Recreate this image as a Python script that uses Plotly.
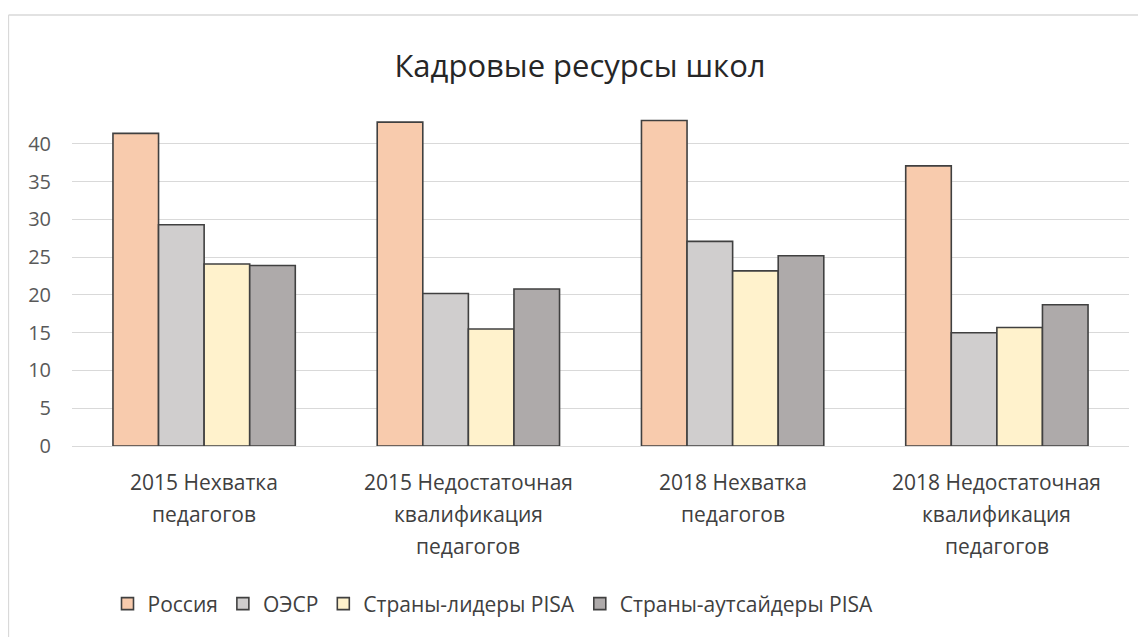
import plotly.graph_objects as go

categories = [
    "2015 Нехватка\nпедагогов",
    "2015 Недостаточная\nквалификация\nпедагогов",
    "2018 Нехватка\nпедагогов",
    "2018 Недостаточная\nквалификация\nпедагогов",
]
series_names = ["Россия", "ОЭСР", "Страны-лидеры PISA", "Страны-аутсайдеры PISA"]
russia = [41.4, 42.9, 43.1, 37.1]
oecd = [29.3, 20.2, 27.1, 15.0]
leaders = [24.1, 15.5, 23.2, 15.7]
outsiders = [23.9, 20.8, 25.2, 18.7]
colors = ["#F8CBAD", "#D0CECE", "#FFF2CC", "#AEAAAA"]
title_text = "Кадровые ресурсы школ"
y_ticks = [0, 5, 10, 15, 20, 25, 30, 35, 40]

FONT = "Open Sans, Noto Sans, sans-serif"
# page has an 8px body margin; figure coordinates = page coordinates - 8
W, H = 1138, 629
L, R, T, B = 64, 17, 102, 191
PH = H - T - B
PW = W - L - R

def py(ypx):
    return (H - B - ypx) / PH

def px(xpx):
    return (xpx - L) / PW

cat_keys = list(range(len(categories)))

fig = go.Figure()
for name, vals, col in zip(series_names, [russia, oecd, leaders, outsiders], colors):
    fig.add_trace(go.Bar(
        x=cat_keys, y=vals, name=name,
        marker=dict(color=col, line=dict(color="#404040", width=1.6)),
    ))

annotations = []
for k, lab in zip(cat_keys, categories):
    for i, line in enumerate(lab.split("\n")):
        annotations.append(dict(
            x=k, xref="x", y=py(474 + 32 * i), yref="paper",
            text=line, showarrow=False, xanchor="center", yanchor="middle",
            font=dict(family=FONT, size=21, color="#404040"),
        ))

shapes = [
    dict(type="line", xref="paper", yref="paper", x0=px(0.5), x1=px(0.5), y0=py(700), y1=py(7),
         line=dict(color="#D9D9D9", width=1.3)),
    dict(type="line", xref="paper", yref="paper", x0=px(0.5), x1=px(1200), y0=py(7), y1=py(7),
         line=dict(color="#D9D9D9", width=1.3)),
]

fig.update_layout(
    width=W, height=H,
    margin=dict(l=L, r=R, t=T, b=B),
    paper_bgcolor="white", plot_bgcolor="white",
    barmode="group", bargap=0.31, bargroupgap=0,
    title=dict(text=title_text, xref="container", x=572 / W, xanchor="center",
               y=1 - 58 / H, yanchor="middle",
               font=dict(family=FONT, size=31, color="#262626")),
    font=dict(family=FONT),
    showlegend=True,
    legend=dict(orientation="h", x=px(485), xanchor="center", y=py(596), yanchor="middle",
                font=dict(family=FONT, size=21, color="#404040"),
                itemwidth=30, traceorder="normal"),
    annotations=annotations,
    shapes=shapes,
)
fig.update_xaxes(
    type="linear", range=[-0.5, 3.5], showticklabels=False, showgrid=False,
    zeroline=False, showline=False, ticks="",
)
fig.update_yaxes(
    range=[0, 44.5], tickvals=y_ticks, showgrid=True, gridcolor="#D9D9D9", gridwidth=1.3,
    zeroline=True, zerolinecolor="#D9D9D9", zerolinewidth=1.3, showline=False,
    tickfont=dict(family=FONT, size=20, color="#595959"), ticklabelstandoff=20,
)

fig.write_html("out.html")
